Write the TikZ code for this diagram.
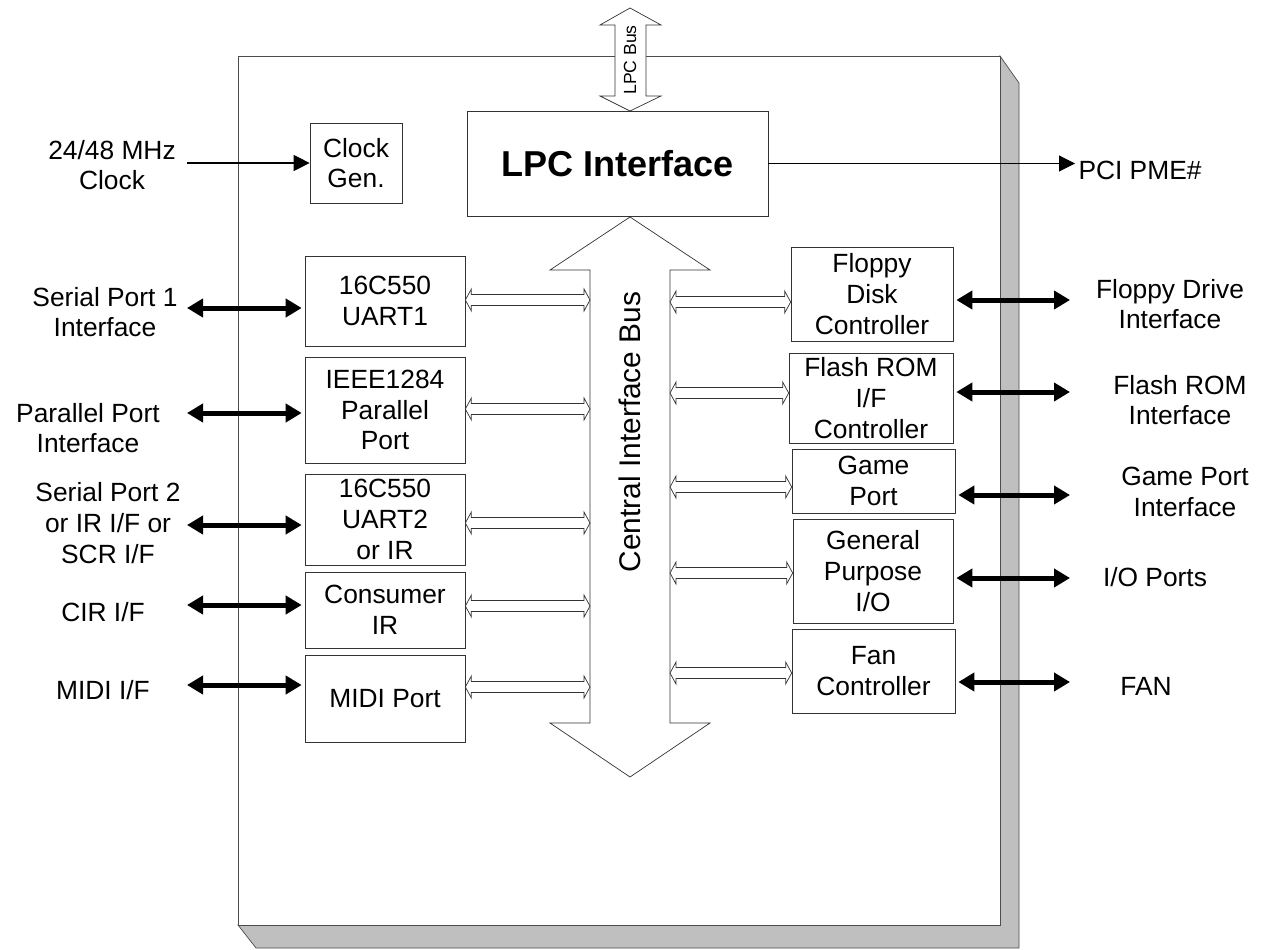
\documentclass[tikz,border=0pt]{standalone}
\usepackage{fontspec}
\setmainfont{Liberation Sans}
\usetikzlibrary{arrows.meta,calc}
\newcommand{\lbl}{\fontsize{15}{17.5}\selectfont}
% hollow double-headed bus link, from #1 (left) to #2 (right)
\newcommand{\hollowlink}[2]{%
  \filldraw[hollow] (#1) -- ++(6,-11) -- ++(0,5.5) -- ($(#2)+(-6,-5.5)$) -- ++(0,-5.5) -- (#2)
    -- ++(-6,11) -- ++(0,-5.5) -- ($(#1)+(6,5.5)$) -- ++(0,5.5) -- cycle;}
\tikzset{
  blk/.style={draw=black!80, fill=white, align=center, inner sep=0pt, font=\lbl},
  txt/.style={align=center, font=\lbl},
  hollow/.style={draw=black!80, fill=white, line width=0.4pt},
  fat/.style={line width=0.1cm, {Triangle[length=0.32cm, width=0.36cm]}-{Triangle[length=0.32cm, width=0.36cm]}},
  thin/.style={line width=0.6pt, -{Triangle[length=0.32cm, width=0.32cm]}}
}
\begin{document}
\begin{tikzpicture}[x=0.02cm, y=-0.02cm]
    \useasboundingbox (0,0) rectangle (1266,949);
    % Chip body with its shadow
    \filldraw[fill=black!25, draw=black!70] (1000,56) -- (1019,83) -- (1019,948) -- (256,948) -- (238,925) -- (1000,925) -- cycle;
    \filldraw[fill=white, draw=black!70] (238,56) rectangle (1000,925);
    % Bus arrows
    \filldraw[fill=white, draw=black!80] (630,8) -- (661,25) -- (646,25) -- (646,96) -- (661,96) -- (630,111)
      -- (600,96) -- (615,96) -- (615,25) -- (600,25) -- cycle;
    \node[rotate=90, font=\fontsize{10}{12}\selectfont] (lpcbus) at (630,60) {LPC Bus};
    \filldraw[fill=white, draw=black!80] (630,217) -- (710,270) -- (670,270) -- (670,723) -- (710,723) -- (630,777)
      -- (550,723) -- (590,723) -- (590,270) -- (550,270) -- cycle;
    \node[rotate=90, font=\fontsize{17}{20}\selectfont] (cib) at (630,432) {Central Interface Bus};
    % Place nodes
    \node[blk, minimum width=6.02cm, minimum height=2.1cm, font=\fontsize{20.5}{24}\bfseries] (lpc) at (617.5,163.5) {LPC Interface};
    \node[blk, minimum width=1.84cm, minimum height=1.6cm] (clk) at (356,163) {Clock\\Gen.};
    % Left blocks
    \node[blk, minimum width=3.2cm, minimum height=1.8cm]  (uartA) at (385,301)   {16C550\\UART1};
    \node[blk, minimum width=3.2cm, minimum height=2.12cm] (par)   at (385,410)   {IEEE1284\\Parallel\\Port};
    \node[blk, minimum width=3.2cm, minimum height=1.82cm] (uartB) at (385,519.5) {16C550\\UART2\\or IR};
    \node[blk, minimum width=3.2cm, minimum height=1.52cm] (cir)   at (385,610)   {Consumer\\IR};
    \node[blk, minimum width=3.2cm, minimum height=1.74cm] (midi)  at (385,698.5) {MIDI Port};
    % Right blocks
    \node[blk, minimum width=3.24cm, minimum height=1.88cm] (fdc)   at (872,294)   {Floppy\\Disk\\Controller};
    \node[blk, minimum width=3.28cm, minimum height=1.8cm]  (flash) at (871,398)   {Flash ROM\\I/F\\Controller};
    \node[blk, minimum width=3.26cm, minimum height=1.28cm] (game)  at (873.5,481) {Game\\Port};
    \node[blk, minimum width=3.2cm, minimum height=2.08cm]  (gpio)  at (873,571)   {General\\Purpose\\I/O};
    \node[blk, minimum width=3.26cm, minimum height=1.68cm] (fan)   at (873.5,671) {Fan\\Controller};
    % Outside labels
    \node[txt] (lclk)  at (112,165)  {24/48 MHz\\Clock};
    \node[txt] (lpme)  at (1140,170) {PCI PME\#};
    \node[txt] (lsp1)  at (105,312)  {Serial Port 1\\Interface};
    \node[txt] (lpar)  at (88,428)   {Parallel Port\\Interface};
    \node[txt] (lsp2)  at (108,523)  {Serial Port 2\\or IR I/F or\\SCR I/F};
    \node[txt] (lcir)  at (103,612)  {CIR I/F};
    \node[txt] (lmidi) at (103,690)  {MIDI I/F};
    \node[txt] (lfdc)  at (1170,304) {Floppy Drive\\Interface};
    \node[txt] (lfla)  at (1180,400) {Flash ROM\\Interface};
    \node[txt] (lgam)  at (1185,492) {Game Port\\Interface};
    \node[txt] (lio)   at (1155,577) {I/O Ports};
    \node[txt] (lfan)  at (1146,686) {FAN};
    % Free ends
    \coordinate (clkin) at (187,163);
    \coordinate (pme)   at (1075,166);
    \coordinate (bA) at (590,300); \coordinate (bB) at (590,409); \coordinate (bC) at (590,523);
    \coordinate (bD) at (590,606); \coordinate (bE) at (590,687);
    \coordinate (cA) at (670,302); \coordinate (cB) at (670,393); \coordinate (cC) at (670,487);
    \coordinate (cD) at (670,573); \coordinate (cE) at (670,673);
    \coordinate (sp1) at (187,308); \coordinate (ppi) at (187,413); \coordinate (sp2) at (187,525);
    \coordinate (cirp) at (187,605); \coordinate (midip) at (187,685);
    \coordinate (fdi) at (1070,300); \coordinate (fri) at (1070,392); \coordinate (gpi) at (1070,495);
    \coordinate (iop) at (1070,578); \coordinate (fanp) at (1070,682);
    % Create edges
    \draw[thin] (clkin) -- (clkin -| clk.west);
    \draw[thin] (lpc.east) -- (lpc.east -| pme);
    % Block to bus
      \hollowlink{bA -| uartA.east}{bA}
      \hollowlink{bB -| par.east}{bB}
      \hollowlink{bC -| uartB.east}{bC}
      \hollowlink{bD -| cir.east}{bD}
      \hollowlink{bE -| midi.east}{bE}
      \hollowlink{cA}{cA -| fdc.west}
      \hollowlink{cB}{cB -| flash.west}
      \hollowlink{cC}{cC -| game.west}
      \hollowlink{cD}{cD -| gpio.west}
      \hollowlink{cE}{cE -| fan.west}
    % Block to outside
      \draw[fat] (sp1)   -- ([xshift=-0.06cm]sp1 -| uartA.west);
      \draw[fat] (ppi)   -- ([xshift=-0.06cm]ppi -| par.west);
      \draw[fat] (sp2)   -- ([xshift=-0.06cm]sp2 -| uartB.west);
      \draw[fat] (cirp)  -- ([xshift=-0.06cm]cirp -| cir.west);
      \draw[fat] (midip) -- ([xshift=-0.06cm]midip -| midi.west);
      \draw[fat] ([xshift=0.06cm]fdi -| fdc.east)   -- (fdi);
      \draw[fat] ([xshift=0.06cm]fri -| flash.east) -- (fri);
      \draw[fat] ([xshift=0.06cm]gpi -| game.east)  -- (gpi);
      \draw[fat] ([xshift=0.06cm]iop -| gpio.east)  -- (iop);
      \draw[fat] ([xshift=0.06cm]fanp -| fan.east)  -- (fanp);
\end{tikzpicture}
\end{document}
